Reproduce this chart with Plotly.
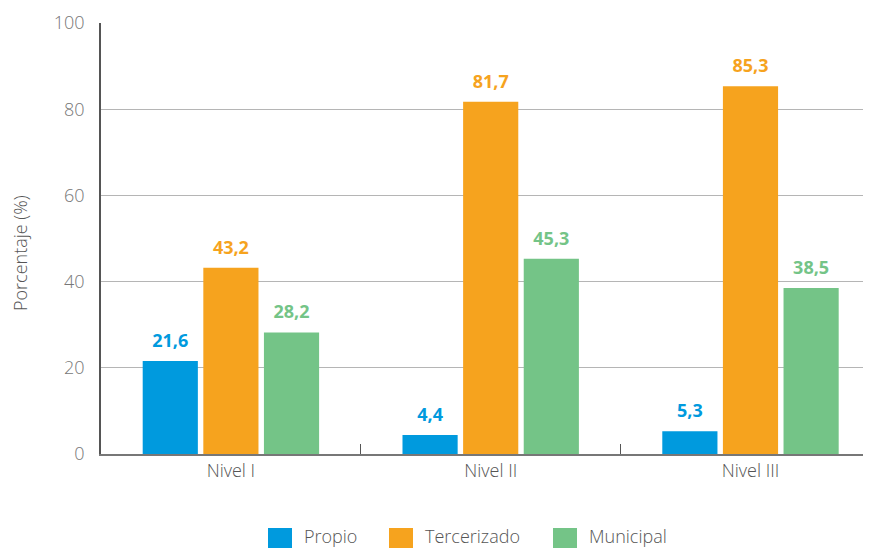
import plotly.graph_objects as go

categories = ["Nivel I", "Nivel II", "Nivel III"]
propio = [21.6, 4.4, 5.3]
tercerizado = [43.2, 81.7, 85.3]
municipal = [28.2, 45.3, 38.5]
series_names = ["Propio", "Tercerizado", "Municipal"]
colors = ["#009ADE", "#F6A31E", "#74C487"]
y_ticks = [0, 20, 40, 60, 80, 100]

FONT = "Open Sans"

# the page adds an 8px body margin; the figure is sized to fill the rest of the window
OFF = 8
W, H = 871 - OFF, 548 - OFF
# plot-area edges in window pixels (as measured on the reference)
PL, PR, PT, PB = 101, 870, 23, 454
L, R, T, B = PL - OFF, W - (PR - OFF), PT - OFF, H - (PB - OFF)
PW, PH = PR - PL, PB - PT

def px_x(p):
    return (p - PL) / PW

def px_y(p):
    return (PB - p) / PH

def fmt(v):
    return f"{v:.1f}".replace(".", ",")

fig = go.Figure()
for name, vals, col in zip(series_names, [propio, tercerizado, municipal], colors):
    fig.add_trace(go.Bar(
        x=categories, y=vals, name=name, offsetgroup=name,
        marker=dict(color=col, line=dict(width=0)),
        showlegend=False,
    ))
for name, vals, col in zip(series_names, [propio, tercerizado, municipal], colors):
    fig.add_trace(go.Scatter(
        x=categories, y=vals, name=name, offsetgroup=name, mode="markers+text",
        marker=dict(size=14, opacity=0, color=col),
        text=[fmt(v) for v in vals], textposition="top center",
        textfont=dict(family=FONT, size=18, color=col, weight="bold"),
        cliponaxis=False, showlegend=False, hoverinfo="skip",
    ))

# legend (swatch + label), laid out as in the reference
legend_sw = [268, 389, 553]
shapes, annotations = [], []
for name, col, sx in zip(series_names, colors, legend_sw):
    shapes.append(dict(type="rect", xref="paper", yref="paper",
                       x0=px_x(sx), x1=px_x(sx + 24), y0=px_y(528), y1=px_y(553),
                       fillcolor=col, line=dict(width=0)))
    annotations.append(dict(text=name, xref="paper", yref="paper", x=px_x(sx + 34),
                            y=px_y(536), xanchor="left", yanchor="middle", showarrow=False,
                            font=dict(family=FONT, size=18, color="#555555", weight=300)))

annotations.append(dict(text="Porcentaje (%)", xref="paper", yref="paper", x=px_x(20),
                        y=px_y(253), textangle=-90, xanchor="center", yanchor="middle",
                        showarrow=False, font=dict(family=FONT, size=18, color="#555555", weight=300)))

fig.update_layout(
    width=W, height=H,
    margin=dict(l=L, r=R, t=T, b=B, autoexpand=False),
    paper_bgcolor="white", plot_bgcolor="white",
    barmode="group", bargap=0.30, bargroupgap=0.09,
    scattermode="group", scattergap=0.30,
    font=dict(family=FONT, color="#555555", size=16),
    showlegend=False,
    shapes=shapes, annotations=annotations,
    xaxis=dict(range=[-0.5, 2.46], showgrid=False, showline=True, linecolor="#777777",
               linewidth=1.5, ticks="inside", tickson="boundaries", ticklen=10,
               tickcolor="#555555", automargin=False,
               tickfont=dict(size=18, color="#555555", weight=300)),
    yaxis=dict(range=[0, 100], tickvals=y_ticks, showgrid=True, gridcolor="#B5B5B5",
               gridwidth=1, showline=True, linecolor="#555555", linewidth=1.5,
               zeroline=False, ticks="", ticklabelstandoff=11, automargin=False,
               tickfont=dict(size=18, color="#777777", weight=300)),
)

fig.write_html("out.html")
